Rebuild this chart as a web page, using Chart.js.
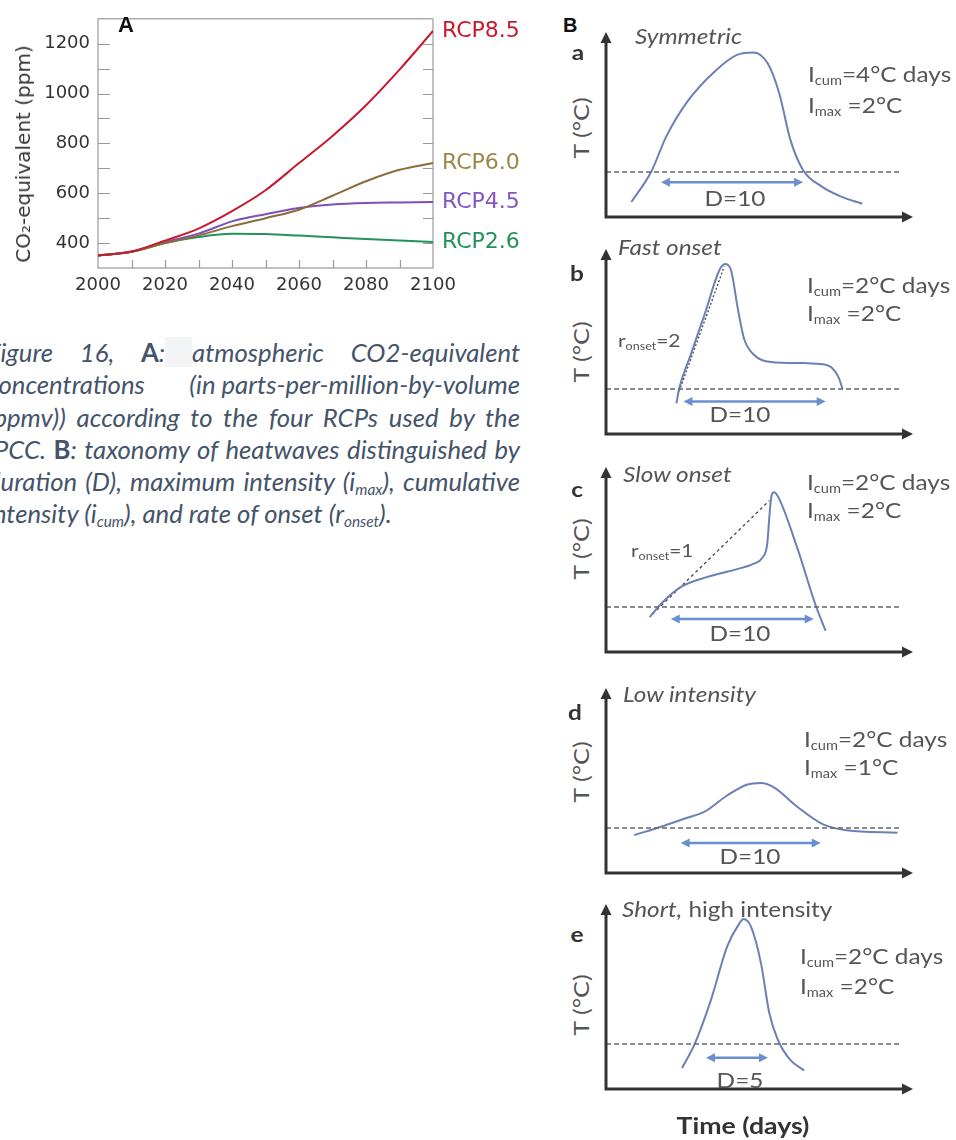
<!DOCTYPE html>
<html>
<head>
<meta charset="utf-8">
<script src="https://cdn.jsdelivr.net/npm/chart.js@4.4.1/dist/chart.umd.min.js"></script>
<style>
  html, body { margin: 0; padding: 0; background: #fff; }
  #page { position: relative; width: 956px; height: 1140px; overflow: hidden; }
  canvas { position: absolute; }
  .t { position: absolute; white-space: nowrap; line-height: 1; }
  .mid { transform: translateY(-50%) scaleX(1.16); transform-origin: left center; }
  .ctr { transform: translate(-50%, -50%) scaleX(1.16); }
  .rot { transform: translate(-50%, -50%) rotate(-90deg) scaleX(1.2); }
  .hb { font-family: Lato, sans-serif; font-size: 21px; color: #555; }
  .hb i { font-style: italic; }
  .hb sub, .cap sub { font-size: 0.6em; vertical-align: -0.25em; line-height: 0; }
  .cap { position: absolute; left: -13px; width: 533px; height: 32px; line-height: 32px;
         font: italic 25.7px Lato, sans-serif; color: #44546a; white-space: nowrap;
         text-align: justify; text-align-last: justify; }
  .cap.last { text-align: left; text-align-last: left; }
  .cap b { font-style: normal; font-weight: 700; }
  .cap .hl { background: #f3f4f6; }
  .cap .keep { display: inline-block; }
</style>
</head>
<body>
<div id="page">
  <canvas id="chartA" width="520" height="300" style="left:0;top:0"></canvas>
  <div class="t" style="left:118px;top:25px;font:bold 22px 'Liberation Sans',Arial;color:#111;transform:translateY(-50%)">A</div>
  <div class="t" style="left:23px;top:154px;font:20px 'DejaVu Sans';color:#333;transform:translate(-50%,-50%) rotate(-90deg)">CO₂-equivalent (ppm)</div>

  <div class="cap" style="top:337px">Figure 16, <b>A</b>:<span class="hl"> </span>atmospheric CO2-equivalent</div>
  <div class="cap" style="top:369px">concentrations <span class="keep">(in parts-per-million-by-volume</span></div>
  <div class="cap" style="top:402px">(ppmv)) according to the four RCPs used by the</div>
  <div class="cap" style="top:434px">IPCC. <b>B</b>: taxonomy of heatwaves distinguished by</div>
  <div class="cap" style="top:466px">duration (D), maximum intensity (i<sub>max</sub>), cumulative</div>
  <div class="cap last" style="top:498px">intensity (i<sub>cum</sub>), and rate of onset (r<sub>onset</sub>).</div>

  <div class="t" style="left:563px;top:25px;font:bold 20px 'Liberation Sans',Arial;color:#111;transform:translateY(-50%)">B</div>

  <canvas id="hwA" width="323" height="197" style="left:596px;top:26px"></canvas>
  <canvas id="hwB" width="323" height="197" style="left:596px;top:243px"></canvas>
  <canvas id="hwC" width="323" height="197" style="left:596px;top:461px"></canvas>
  <canvas id="hwD" width="323" height="197" style="left:596px;top:682px"></canvas>
  <canvas id="hwE" width="323" height="197" style="left:596px;top:898px"></canvas>

  <!-- a -->
  <div class="t hb mid" style="left:635px;top:35px"><i>Symmetric</i></div>
  <div class="t hb ctr" style="left:578px;top:51px;font-weight:700;color:#333">a</div>
  <div class="t hb rot" style="left:580px;top:128px">T (°C)</div>
  <div class="t hb mid" style="left:808px;top:73px">I<sub>cum</sub>=4°C days</div>
  <div class="t hb mid" style="left:808px;top:104px">I<sub>max</sub> =2°C</div>
  <div class="t hb ctr" style="left:735px;top:197px">D=10</div>
  <!-- b -->
  <div class="t hb mid" style="left:618px;top:246px"><i>Fast onset</i></div>
  <div class="t hb ctr" style="left:577px;top:272px;font-weight:700;color:#333">b</div>
  <div class="t hb rot" style="left:580px;top:352px">T (°C)</div>
  <div class="t hb mid" style="left:807px;top:284px">I<sub>cum</sub>=2°C days</div>
  <div class="t hb mid" style="left:807px;top:312px">I<sub>max</sub> =2°C</div>
  <div class="t hb mid" style="left:618px;top:340px;font-size:18px">r<sub>onset</sub>=2</div>
  <div class="t hb ctr" style="left:740px;top:413px">D=10</div>
  <!-- c -->
  <div class="t hb mid" style="left:623px;top:473px"><i>Slow onset</i></div>
  <div class="t hb ctr" style="left:577px;top:488px;font-weight:700;color:#333">c</div>
  <div class="t hb rot" style="left:580px;top:549px">T (°C)</div>
  <div class="t hb mid" style="left:807px;top:481px">I<sub>cum</sub>=2°C days</div>
  <div class="t hb mid" style="left:807px;top:509px">I<sub>max</sub> =2°C</div>
  <div class="t hb mid" style="left:631px;top:550px;font-size:18px">r<sub>onset</sub>=1</div>
  <div class="t hb ctr" style="left:740px;top:632px">D=10</div>
  <!-- d -->
  <div class="t hb mid" style="left:623px;top:693px"><i>Low intensity</i></div>
  <div class="t hb ctr" style="left:575px;top:711px;font-weight:700;color:#333">d</div>
  <div class="t hb rot" style="left:580px;top:772px">T (°C)</div>
  <div class="t hb mid" style="left:804px;top:738px">I<sub>cum</sub>=2°C days</div>
  <div class="t hb mid" style="left:804px;top:766px">I<sub>max</sub> =1°C</div>
  <div class="t hb ctr" style="left:750px;top:855px">D=10</div>
  <!-- e -->
  <div class="t hb mid" style="left:622px;top:908px"><i>Short,</i> high intensity</div>
  <div class="t hb ctr" style="left:577px;top:933px;font-weight:700;color:#333">e</div>
  <div class="t hb rot" style="left:580px;top:1005px">T (°C)</div>
  <div class="t hb mid" style="left:800px;top:955px">I<sub>cum</sub>=2°C days</div>
  <div class="t hb mid" style="left:800px;top:985px">I<sub>max</sub> =2°C</div>
  <div class="t hb ctr" style="left:740px;top:1079px">D=5</div>
  <div class="t hb ctr" style="left:743px;top:1125px;font-size:23px;font-weight:700;color:#333">Time (days)</div>
</div>

<script>
// ---- Panel A: CO2-equivalent concentrations (ppm) per RCP ----
const years = [2000, 2010, 2020, 2030, 2040, 2050, 2060, 2070, 2080, 2090, 2100];
const rcp85 = [350, 366, 410, 458, 528, 612, 721, 830, 953, 1096, 1251];
const rcp60 = [350, 365, 400, 430, 468, 500, 534, 590, 648, 694, 721];
const rcp45 = [350, 365, 404, 438, 487, 516, 541, 555, 561, 563, 565];
const rcp26 = [350, 365, 400, 424, 437, 436, 430, 423, 416, 410, 404];
const rcpNames = ["RCP8.5", "RCP6.0", "RCP4.5", "RCP2.6"];
const rcpLineColors = ["#c8192e", "#8c6d3a", "#7d4fb8", "#23925c"];
const rcpTextColors = ["#c8192e", "#9c8748", "#8457c0", "#23925c"];

// ---- Panel B: heatwave schematics, x in days, y in °C above threshold ----
const symX = [1.8, 3.2, 4.3, 5.8, 7.7, 9.3, 10.5, 11.5, 12.3, 13.1, 14.0, 15.3, 16.7, 18.2];
const symY = [-0.5, 0, 0.6, 1.18, 1.67, 1.95, 1.99, 1.8, 1.31, 0.53, 0.03, -0.24, -0.41, -0.53];
const fastX = [5.0, 5.2, 6.0, 7.0, 8.1, 8.5, 8.9, 9.35, 9.8, 10.5, 11.7, 14.1, 15.4, 16.0, 16.5, 16.8];
const fastY = [-0.24, 0.01, 0.56, 1.24, 2.0, 2.08, 1.96, 1.35, 0.84, 0.57, 0.45, 0.43, 0.41, 0.36, 0.2, 0.0];
const fastOnsetX = [5.1, 8.4];
const fastOnsetY = [-0.1, 2.04];
const slowX = [3.1, 3.9, 5.3, 7.2, 9.3, 10.5, 11.1, 11.45, 11.6, 11.75, 11.95, 12.3, 13.6, 14.9, 15.6];
const slowY = [-0.17, 0.05, 0.33, 0.5, 0.63, 0.72, 0.82, 1.05, 1.5, 1.85, 1.91, 1.8, 0.97, 0.02, -0.4];
const slowOnsetX = [3.3, 11.6];
const slowOnsetY = [-0.12, 1.77];
const lowX = [2.0, 3.9, 5.5, 7.0, 8.6, 10.0, 11.0, 11.9, 13.6, 15.5, 17.1, 20.7];
const lowY = [-0.12, 0.02, 0.15, 0.27, 0.54, 0.72, 0.75, 0.68, 0.35, 0.05, -0.04, -0.08];
const shortX = [5.4, 6.26, 7.45, 8.6, 9.45, 9.77, 10.28, 11.0, 11.6, 12.2, 13.1, 14.07];
const shortY = [-0.4, -0.02, 0.73, 1.62, 2.0, 2.08, 1.96, 1.35, 0.51, 0.07, -0.27, -0.44];
const thresholdX = [0, 21];
const durationSpans = { A: [3.9, 14.0], B: [5.5, 15.6], C: [4.6, 14.75], D: [5.3, 15.25], E: [7.1, 11.5] };
const durationLevel = { A: -0.17, B: -0.21, C: -0.2, D: -0.25, E: -0.23 };

const pts = (xs, ys) => xs.map((x, i) => ({ x, y: ys[i] }));

// Box, inward ticks and end-of-line labels for panel A.
const frameA = {
  id: "frameA",
  beforeDatasetsDraw(chart) {
    const { ctx, chartArea: a, scales: { x, y } } = chart;
    ctx.save();
    ctx.strokeStyle = "#9a9a9a";
    ctx.lineWidth = 1.2;
    ctx.strokeRect(a.left, a.top, a.right - a.left, a.bottom - a.top);
    ctx.beginPath();
    y.ticks.forEach((t) => {
      if (t.value <= y.min || t.value >= y.max) return;
      const py = Math.round(y.getPixelForValue(t.value)) + 0.5;
      ctx.moveTo(a.left, py); ctx.lineTo(a.left + 12, py);
      ctx.moveTo(a.right, py); ctx.lineTo(a.right - 10, py);
    });
    x.ticks.forEach((t) => {
      if (t.value <= x.min || t.value >= x.max) return;
      const px = Math.round(x.getPixelForValue(t.value)) + 0.5;
      ctx.moveTo(px, a.bottom); ctx.lineTo(px, a.bottom - 8);
    });
    ctx.stroke();
    ctx.restore();
  },
  afterDatasetsDraw(chart) {
    const { ctx, chartArea: a, scales: { y } } = chart;
    ctx.save();
    ctx.font = '22px "DejaVu Sans"';
    ctx.textBaseline = "middle";
    chart.data.datasets.forEach((ds, i) => {
      ctx.fillStyle = rcpTextColors[i];
      ctx.fillText(ds.label, a.right + 9, y.getPixelForValue(ds.data[ds.data.length - 1].y));
    });
    ctx.restore();
  },
};

const tickFont = { family: "DejaVu Sans", size: 18 };
new Chart(document.getElementById("chartA"), {
  type: "line",
  data: {
    datasets: [rcp85, rcp60, rcp45, rcp26].map((vals, i) => ({
      label: rcpNames[i],
      data: pts(years, vals),
      borderColor: rcpLineColors[i],
      borderWidth: 2,
      pointRadius: 0,
      cubicInterpolationMode: "monotone",
    })),
  },
  options: {
    responsive: false,
    animation: false,
    events: [],
    layout: { padding: { top: 11, right: 87, left: 0, bottom: 0 } },
    plugins: { legend: { display: false }, tooltip: { enabled: false } },
    scales: {
      x: {
        type: "linear", min: 2000, max: 2100,
        afterFit: (s) => { s.height = 32; },
        grid: { display: false, drawTicks: false },
        border: { display: false },
        ticks: {
          stepSize: 10, autoSkip: false, maxRotation: 0, padding: 7,
          color: "#333", font: tickFont,
          callback: (v) => (v % 20 === 0 ? String(v) : ""),
        },
      },
      y: {
        min: 300, max: 1300,
        afterFit: (s) => { s.width = 98; },
        grid: { display: false, drawTicks: false },
        border: { display: false },
        ticks: {
          stepSize: 100, autoSkip: false, padding: 8,
          color: "#333", font: tickFont,
          callback: (v) => (v % 200 === 0 ? String(v) : ""),
        },
      },
    },
  },
  plugins: [frameA],
});

// Arrowed axes plus the duration double arrow for each heatwave panel.
function head(ctx, x, y, dx, dy, len, half) {
  ctx.beginPath();
  ctx.moveTo(x, y);
  ctx.lineTo(x - dx * len - dy * half, y - dy * len + dx * half);
  ctx.lineTo(x - dx * len + dy * half, y - dy * len - dx * half);
  ctx.closePath();
  ctx.fill();
}
const heatAxes = {
  id: "heatAxes",
  afterDatasetsDraw(chart, args, opts) {
    const { ctx, chartArea: a, scales: { x, y } } = chart;
    ctx.save();
    ctx.strokeStyle = "#333";
    ctx.fillStyle = "#333";
    ctx.lineWidth = 3;
    ctx.beginPath();
    ctx.moveTo(a.left, a.top + 8);
    ctx.lineTo(a.left, a.bottom);
    ctx.lineTo(a.right - 8, a.bottom);
    ctx.stroke();
    head(ctx, a.left, a.top, 0, -1, 11, 5.5);
    head(ctx, a.right, a.bottom, 1, 0, 11, 5.5);

    const x0 = x.getPixelForValue(opts.span[0]);
    const x1 = x.getPixelForValue(opts.span[1]);
    const py = y.getPixelForValue(opts.level);
    ctx.strokeStyle = "#6a8fcf";
    ctx.fillStyle = "#6a8fcf";
    ctx.lineWidth = 2.5;
    ctx.beginPath();
    ctx.moveTo(x0 + 6, py);
    ctx.lineTo(x1 - 6, py);
    ctx.stroke();
    head(ctx, x0, py, -1, 0, 9, 4.5);
    head(ctx, x1, py, 1, 0, 9, 4.5);
    ctx.restore();
  },
};

function heatChart(id, key, curveX, curveY, onsetX, onsetY, onsetDash) {
  const datasets = [
    {
      data: pts(thresholdX, [0, 0]),
      borderColor: "#666", borderWidth: 1.5, borderDash: [5, 3], pointRadius: 0,
    },
    {
      data: pts(curveX, curveY),
      borderColor: "#6b80b6", borderWidth: 2, pointRadius: 0,
      cubicInterpolationMode: "monotone",
    },
  ];
  if (onsetX) {
    datasets.push({
      data: pts(onsetX, onsetY),
      borderColor: "#444", borderWidth: 1.3, borderDash: onsetDash, pointRadius: 0,
    });
  }
  new Chart(document.getElementById(id), {
    type: "line",
    data: { datasets },
    options: {
      responsive: false,
      animation: false,
      events: [],
      layout: { padding: { top: 6, bottom: 6, left: 10, right: 6 } },
      plugins: {
        legend: { display: false },
        tooltip: { enabled: false },
        heatAxes: { span: durationSpans[key], level: durationLevel[key] },
      },
      scales: {
        x: { type: "linear", min: 0, max: 21.8, display: false },
        y: { min: -0.75, max: 2.33, display: false },
      },
    },
    plugins: [heatAxes],
  });
}

heatChart("hwA", "A", symX, symY);
heatChart("hwB", "B", fastX, fastY, fastOnsetX, fastOnsetY, [2, 2]);
heatChart("hwC", "C", slowX, slowY, slowOnsetX, slowOnsetY, [3, 3]);
heatChart("hwD", "D", lowX, lowY);
heatChart("hwE", "E", shortX, shortY);
</script>
</body>
</html>
